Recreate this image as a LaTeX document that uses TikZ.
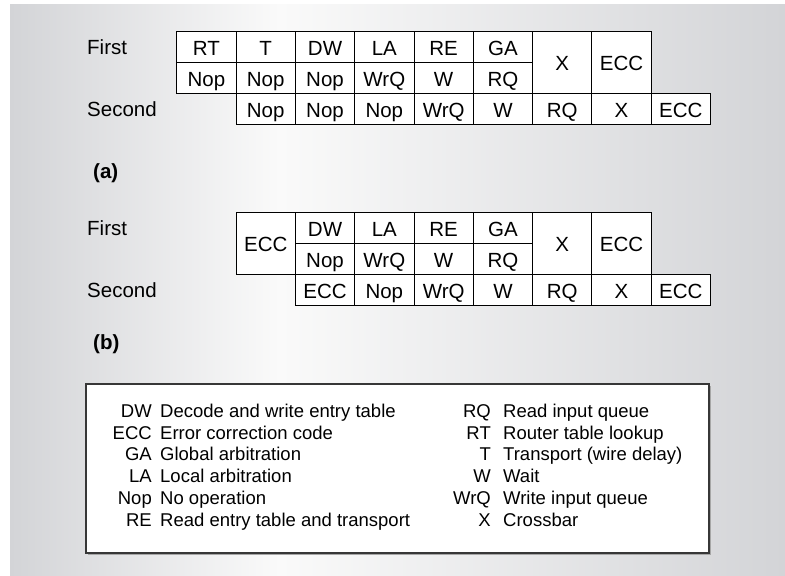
\documentclass[tikz,border=0pt]{standalone}
\usepackage{fontspec}
\setmainfont{Liberation Sans}
\definecolor{bgg}{RGB}{211,212,215}
\definecolor{bgl}{RGB}{250,250,250}
\definecolor{boxline}{RGB}{55,55,55}
\newcommand{\cellfont}{\fontsize{20.5}{24}\selectfont}
\newcommand{\legfont}{\fontsize{18.5}{22}\selectfont}
\tikzset{
  cell/.style={draw=black, line width=1pt, fill=white, inner sep=0pt,
    minimum width=59.3pt, minimum height=31pt, anchor=north west,
    font=\cellfont, text height=16pt, text depth=0pt},
  tallcell/.style={cell, minimum height=62pt},
  rowlab/.style={anchor=west, inner sep=0pt, font=\cellfont, text height=16pt, text depth=0pt},
  partlab/.style={anchor=west, inner sep=0pt, font=\cellfont\bfseries, text height=16pt, text depth=0pt},
  abbr/.style={anchor=east, inner sep=0pt, font=\legfont, text height=14pt, text depth=0pt},
  desc/.style={anchor=west, inner sep=0pt, font=\legfont, text height=14pt, text depth=0pt},
  legbox/.style={draw=boxline, line width=1.5pt, fill=white},
  legshadow/.style={fill=gray!70}
}
\begin{document}
\begin{tikzpicture}[x=1pt,y=-1pt]
\useasboundingbox (0,0) rectangle (785,576);
% background
\fill[left color=bgg, right color=bgl] (10,4) rectangle (280,576);
\fill[left color=bgl, right color=bgg] (279.5,4) rectangle (785,576);

% ---------- (a) ----------
\node[rowlab] (aFirst) at (87,46.5) {First};
\node[rowlab] (aSecond) at (87,108.5) {Second};
% first, upper sub-row
\node[cell] (a1RT) at (176.3,31) {RT};
\node[cell] (a1T)  at (235.6,31) {T};
\node[cell] (a1DW) at (294.9,31) {DW};
\node[cell] (a1LA) at (354.2,31) {LA};
\node[cell] (a1RE) at (413.5,31) {RE};
\node[cell] (a1GA) at (472.8,31) {GA};
\node[tallcell] (a1X)   at (532.1,31) {X};
\node[tallcell] (a1ECC) at (591.4,31) {ECC};
% first, lower sub-row
\node[cell] (a2N1) at (176.3,62) {Nop};
\node[cell] (a2N2) at (235.6,62) {Nop};
\node[cell] (a2N3) at (294.9,62) {Nop};
\node[cell] (a2WrQ) at (354.2,62) {WrQ};
\node[cell] (a2W)  at (413.5,62) {W};
\node[cell] (a2RQ) at (472.8,62) {RQ};
% second
\node[cell] (a3N1) at (235.6,93) {Nop};
\node[cell] (a3N2) at (294.9,93) {Nop};
\node[cell] (a3N3) at (354.2,93) {Nop};
\node[cell] (a3WrQ) at (413.5,93) {WrQ};
\node[cell] (a3W)  at (472.8,93) {W};
\node[cell] (a3RQ) at (532.1,93) {RQ};
\node[cell] (a3X)  at (591.4,93) {X};
\node[cell] (a3ECC) at (650.7,93) {ECC};
\node[partlab] (alab) at (93,170) {(a)};

% ---------- (b) ----------
\node[rowlab] (bFirst) at (87,227.5) {First};
\node[rowlab] (bSecond) at (87,289.5) {Second};
\node[tallcell] (b1ECCa) at (235.6,212) {ECC};
\node[cell] (b1DW) at (294.9,212) {DW};
\node[cell] (b1LA) at (354.2,212) {LA};
\node[cell] (b1RE) at (413.5,212) {RE};
\node[cell] (b1GA) at (472.8,212) {GA};
\node[tallcell] (b1X)   at (532.1,212) {X};
\node[tallcell] (b1ECC) at (591.4,212) {ECC};
\node[cell] (b2Nop) at (294.9,243) {Nop};
\node[cell] (b2WrQ) at (354.2,243) {WrQ};
\node[cell] (b2W)   at (413.5,243) {W};
\node[cell] (b2RQ)  at (472.8,243) {RQ};
\node[cell] (b3ECCa) at (294.9,274) {ECC};
\node[cell] (b3Nop) at (354.2,274) {Nop};
\node[cell] (b3WrQ) at (413.5,274) {WrQ};
\node[cell] (b3W)   at (472.8,274) {W};
\node[cell] (b3RQ)  at (532.1,274) {RQ};
\node[cell] (b3X)   at (591.4,274) {X};
\node[cell] (b3ECC) at (650.7,274) {ECC};
\node[partlab] (blab) at (93,341) {(b)};

% ---------- legend ----------
\fill[legshadow] (88,386) rectangle (710.5,555);
\draw[legbox] (86,384) rectangle (709,553);
\node[abbr] (kDW)  at (152,410.5) {DW};
\node[desc] (dDW)  at (160,410.5) {Decode and write entry table};
\node[abbr] (kECC) at (152,432.2) {ECC};
\node[desc] (dECC) at (160,432.2) {Error correction code};
\node[abbr] (kGA)  at (152,453.9) {GA};
\node[desc] (dGA)  at (160,453.9) {Global arbitration};
\node[abbr] (kLA)  at (152,475.6) {LA};
\node[desc] (dLA)  at (160,475.6) {Local arbitration};
\node[abbr] (kNop) at (152,497.3) {Nop};
\node[desc] (dNop) at (160,497.3) {No operation};
\node[abbr] (kRE)  at (152,519) {RE};
\node[desc] (dRE)  at (160,519) {Read entry table and transport};

\node[abbr] (kRQ)  at (491,410.5) {RQ};
\node[desc] (dRQ)  at (503,410.5) {Read input queue};
\node[abbr] (kRT)  at (491,432.2) {RT};
\node[desc] (dRT)  at (503,432.2) {Router table lookup};
\node[abbr] (kT)   at (491,453.9) {T};
\node[desc] (dT)   at (503,453.9) {Transport (wire delay)};
\node[abbr] (kW)   at (491,475.6) {W};
\node[desc] (dW)   at (503,475.6) {Wait};
\node[abbr] (kWrQ) at (491,497.3) {WrQ};
\node[desc] (dWrQ) at (503,497.3) {Write input queue};
\node[abbr] (kX)   at (491,519) {X};
\node[desc] (dX)   at (503,519) {Crossbar};
\end{tikzpicture}
\end{document}
